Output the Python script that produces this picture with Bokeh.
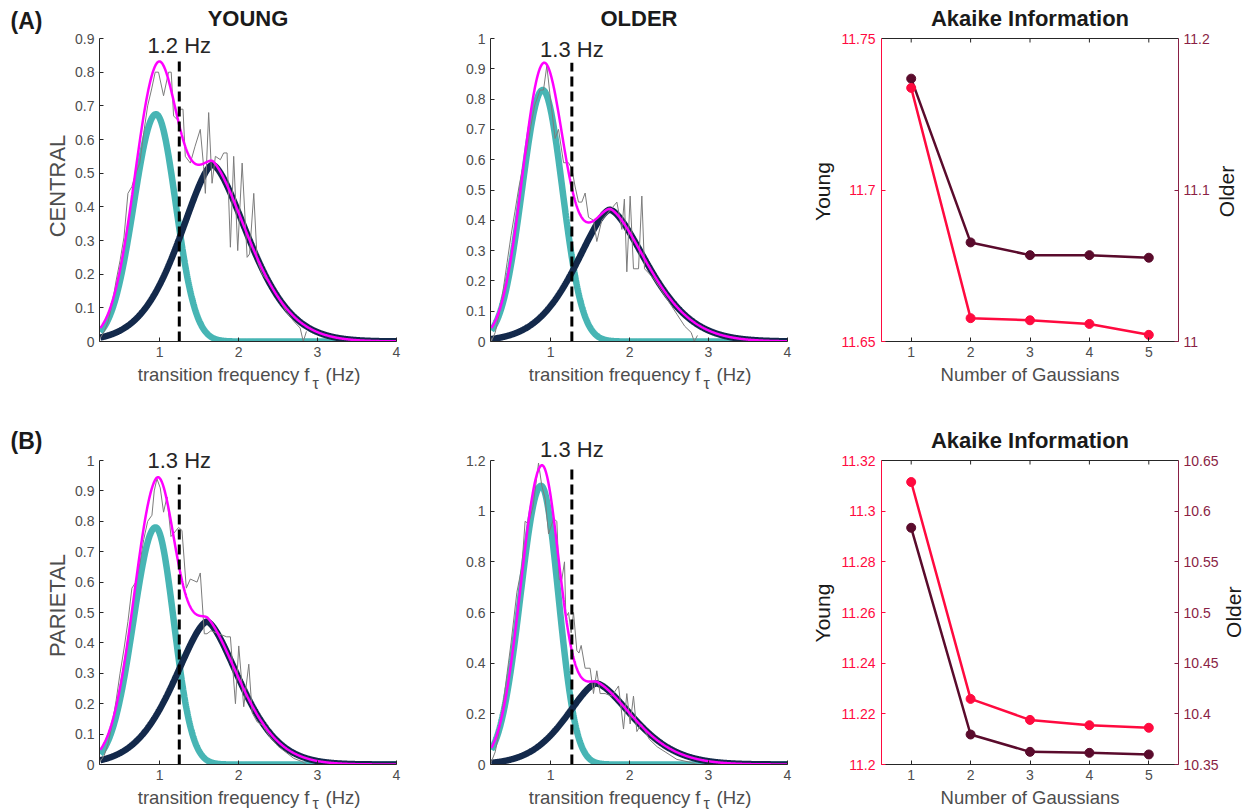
import numpy as np
from bokeh.plotting import figure
from bokeh.layouts import row, column
from bokeh.models import Range1d, LinearAxis, FixedTicker, NumeralTickFormatter, Label, Span
from bokeh.embed import file_html
from bokeh.resources import INLINE

# ---------------------------------------------------------------- data
freq_ticks = [1, 2, 3, 4]
gauss_n = [1, 2, 3, 4, 5]

# fitted components:
# [amplitude, centre (Hz), width left of centre, width right of centre, shape exponent]
fast_A_young = [0.675, 0.955, 0.28, 0.25, 2.0]
slow_A_young = [0.525, 1.67, 0.40, 0.44, 1.6]
fast_A_older = [0.83, 0.90, 0.26, 0.25, 2.0]
slow_A_older = [0.435, 1.75, 0.41, 0.46, 1.6]
fast_B_young = [0.78, 0.95, 0.28, 0.23, 2.0]
slow_B_young = [0.47, 1.60, 0.40, 0.40, 1.6]
fast_B_older = [1.10, 0.88, 0.26, 0.22, 2.0]
slow_B_older = [0.32, 1.58, 0.37, 0.445, 1.6]

# measured distributions (grey)
gx_A_young = [0.25, 0.30, 0.35, 0.40, 0.45, 0.50, 0.55, 0.60, 0.65, 0.70, 0.75, 0.80, 0.85, 0.90,
              0.945, 0.987, 1.051, 1.114, 1.148, 1.178, 1.22, 1.263, 1.297, 1.326, 1.39, 1.45,
              1.516, 1.558, 1.58, 1.622, 1.665, 1.707, 1.77, 1.812, 1.855, 1.897, 1.939, 1.99,
              2.046, 2.109, 2.14, 2.193, 2.236, 2.30, 2.40, 2.50, 2.60, 2.70, 2.78, 2.82, 2.86]
gy_A_young = [0.01, 0.03, 0.06, 0.11, 0.18, 0.24, 0.31, 0.44, 0.46, 0.50, 0.53, 0.62, 0.70, 0.75,
              0.80, 0.80, 0.73, 0.80, 0.80, 0.67, 0.66, 0.69, 0.69, 0.55, 0.53, 0.58,
              0.63, 0.52, 0.44, 0.68, 0.47, 0.55, 0.54, 0.56, 0.56, 0.28, 0.55, 0.27,
              0.53, 0.25, 0.26, 0.44, 0.24, 0.20, 0.17, 0.13, 0.09, 0.06, 0.04, 0.0, 0.03]
gx_A_older = [0.25, 0.30, 0.35, 0.40, 0.45, 0.50, 0.55, 0.60, 0.66, 0.70, 0.75, 0.80, 0.868, 0.911,
              0.953, 0.995, 1.058, 1.101, 1.165, 1.228, 1.27, 1.312, 1.354, 1.396, 1.438, 1.481,
              1.544, 1.586, 1.649, 1.713, 1.84, 1.903, 1.935, 1.966, 2.008, 2.05, 2.114, 2.156,
              2.19, 2.30, 2.40, 2.50, 2.60, 2.70, 2.78, 2.82, 2.86]
gy_A_older = [0.00, 0.03, 0.09, 0.17, 0.26, 0.35, 0.43, 0.51, 0.59, 0.63, 0.71, 0.78, 0.83, 0.83,
              0.91, 0.81, 0.67, 0.70, 0.59, 0.59, 0.57, 0.51, 0.46, 0.46, 0.49, 0.41,
              0.40, 0.33, 0.40, 0.42, 0.46, 0.37, 0.47, 0.23, 0.48, 0.24, 0.24, 0.48,
              0.24, 0.21, 0.17, 0.13, 0.09, 0.05, 0.03, 0.0, 0.02]
gx_B_young = [0.25, 0.30, 0.35, 0.40, 0.45, 0.50, 0.55, 0.60, 0.65, 0.70, 0.75, 0.80, 0.85, 0.904,
              0.933, 0.967, 1.009, 1.051, 1.094, 1.145, 1.178, 1.241, 1.284, 1.339, 1.39, 1.475,
              1.516, 1.567, 1.601, 1.65, 1.75, 1.85, 1.897, 1.961, 2.003, 2.066, 2.13, 2.173,
              2.236, 2.30, 2.40, 2.50, 2.60, 2.70, 2.80, 2.86]
gy_B_young = [0.01, 0.03, 0.07, 0.13, 0.21, 0.30, 0.38, 0.47, 0.58, 0.60, 0.66, 0.74, 0.80, 0.82,
              0.90, 0.94, 0.91, 0.83, 0.88, 0.75, 0.76, 0.78, 0.77, 0.58, 0.61, 0.60,
              0.63, 0.43, 0.43, 0.44, 0.43, 0.42, 0.42, 0.20, 0.39, 0.19, 0.33, 0.17,
              0.14, 0.13, 0.09, 0.06, 0.04, 0.02, 0.01, 0.0]
gx_B_older = [0.25, 0.30, 0.35, 0.40, 0.45, 0.50, 0.574, 0.637, 0.678, 0.722, 0.78, 0.848, 0.89,
              0.932, 0.975, 1.038, 1.08, 1.109, 1.143, 1.177, 1.194, 1.228, 1.261, 1.291, 1.333,
              1.36, 1.388, 1.438, 1.501, 1.544, 1.586, 1.628, 1.691, 1.776, 1.861, 1.924, 1.966,
              2.008, 2.05, 2.093, 2.15, 2.25, 2.35, 2.45, 2.60, 2.75, 2.86]
gy_B_older = [0.01, 0.05, 0.13, 0.24, 0.36, 0.48, 0.68, 0.78, 0.96, 0.95, 1.02, 1.19, 1.10,
              1.05, 0.91, 0.97, 0.96, 0.73, 0.73, 0.80, 0.58, 0.60, 0.52, 0.60, 0.45,
              0.44, 0.47, 0.38, 0.38, 0.28, 0.37, 0.28, 0.28, 0.27, 0.31, 0.14, 0.28,
              0.16, 0.27, 0.13, 0.16, 0.10, 0.07, 0.05, 0.02, 0.01, 0.0]

threshold_hz = [1.25, 1.27, 1.25, 1.27]
threshold_txt = ["1.2 Hz", "1.3 Hz", "1.3 Hz", "1.3 Hz"]

yticks_09 = [0, 0.1, 0.2, 0.3, 0.4, 0.5, 0.6, 0.7, 0.8, 0.9]
yticks_10 = [0, 0.1, 0.2, 0.3, 0.4, 0.5, 0.6, 0.7, 0.8, 0.9, 1.0]
yticks_12 = [0, 0.2, 0.4, 0.6, 0.8, 1.0, 1.2]

aic_young_A = [11.7337, 11.6577, 11.6570, 11.6558, 11.6522]
aic_older_A = [11.1735, 11.0654, 11.0570, 11.0570, 11.0553]
aic_young_B = [11.3115, 11.2259, 11.2176, 11.2155, 11.2145]
aic_older_B = [10.5836, 10.3796, 10.3625, 10.3615, 10.3599]
aic_left_ticks_A = [11.65, 11.7, 11.75]
aic_right_ticks_A = [11.0, 11.1, 11.2]
aic_left_ticks_B = [11.2, 11.22, 11.24, 11.26, 11.28, 11.3, 11.32]
aic_right_ticks_B = [10.35, 10.4, 10.45, 10.5, 10.55, 10.6, 10.65]

# ---------------------------------------------------------------- style
FONT = "Liberation Sans"
TEAL = "#47b5b4"
NAVY = "#13294b"
MAGENTA = "#ff00ff"
GREY = "#7c7c7c"
RED = "#ff0a3f"
DARK = "#5a0b2c"
MAROON = "#8a1f45"
AXIS = "#262626"
TICKTXT = "#4d4d4d"
TITLE = "#1a1a1a"


def component(x, prm):
    amp, mu, sl, sr, pw = prm
    d = x - mu
    s = np.where(d < 0, sl, sr)
    return amp * np.exp(-0.5 * np.abs(d / s) ** pw)


class Geo:
    """maps page pixels to data, given the pixel box of the axes and its data limits"""
    def __init__(self, box, lim):
        self.l, self.r, self.t, self.b = box
        self.x0, self.x1, self.y0, self.y1 = lim
        self.sx = (self.x1 - self.x0) / (self.r - self.l)
        self.sy = (self.y1 - self.y0) / (self.b - self.t)

    def x(self, px):
        return self.x0 + (px - self.l) * self.sx

    def y(self, py):
        return self.y0 + (self.b - py) * self.sy

    def dy(self, dpx):
        return dpx * self.sy


def style_axis(ax, line_color, text_color, ticks, fmt, standoff=5):
    ax.ticker = FixedTicker(ticks=ticks)
    ax.formatter = NumeralTickFormatter(format=fmt)
    ax.major_tick_in = 4
    ax.major_tick_out = 0
    ax.minor_tick_line_color = None
    ax.axis_line_color = line_color
    ax.axis_line_width = 1
    ax.major_tick_line_color = line_color
    ax.major_label_text_color = text_color
    ax.major_label_text_font = FONT
    ax.major_label_text_font_size = "14px"
    ax.major_label_standoff = standoff


def _clean(p):
    p.grid.visible = False
    p.outline_line_color = None
    p.background_fill_color = "white"
    p.border_fill_color = "white"
    return p


def make_fig(fig_box, frame_box, geo):
    fx, fy, fw, fh = fig_box
    l, r, t, b = frame_box
    p = figure(width=fw, height=fh,
               x_range=Range1d(geo.x(l), geo.x(r)), y_range=Range1d(geo.y(b), geo.y(t)),
               output_backend="svg", toolbar_location=None, tools="", min_border=0,
               min_border_left=l - fx, min_border_right=fx + fw - r,
               min_border_top=t - fy, min_border_bottom=fy + fh - b,
               frame_align=False)
    return _clean(p)


def strip(x, y, w, h):
    """a bare text area whose data coordinates are page pixels"""
    p = figure(width=w, height=h, x_range=Range1d(x, x + w), y_range=Range1d(y + h, y),
               x_axis_location=None, y_axis_location=None,
               output_backend="svg", toolbar_location=None, tools="", min_border=0,
               min_border_left=0, min_border_right=0, min_border_top=0, min_border_bottom=0,
               frame_align=False)
    return _clean(p)


def txt(p, x, y, text, size, color=TITLE, bold=False, align="left", angle=0.0):
    # (x, y) is the vertical middle of the text line
    p.add_layout(Label(x=x, y=y, text=text, text_font=FONT, text_font_size=size,
                       text_color=color, text_font_style="bold" if bold else "normal",
                       text_align=align, text_baseline="middle", angle=angle))


def xlabel_freq(p, off, mid, tau_mid):
    txt(p, 309 + off, mid, "transition frequency f", "18.5px", color=TICKTXT, align="right")
    txt(p, 312 + off, tau_mid, "\u03c4", "16px", color=TICKTXT, align="left")
    txt(p, 325 + off, mid, "(Hz)", "18.5px", color=TICKTXT, align="left")


def curve_panel(fig_box, frame_box, ax_box, ymax, yticks, fast, slow, gx, gy,
                thr, thr_txt, thr_mid, ylab=None):
    g = Geo(ax_box, (0.24, 4.0, 0.0, ymax))
    p = make_fig(fig_box, frame_box, g)
    style_axis(p.xaxis[0], AXIS, TICKTXT, freq_ticks, "0")
    style_axis(p.yaxis[0], AXIS, TICKTXT, yticks, "0.[0]")
    p.xaxis[0].bounds = (0.24, 4.0)
    p.yaxis[0].bounds = (0.0, ymax)
    if ylab:
        p.yaxis[0].axis_label = ylab
        p.yaxis[0].axis_label_text_font = FONT
        p.yaxis[0].axis_label_text_font_size = "22px"
        p.yaxis[0].axis_label_text_font_style = "normal"
        p.yaxis[0].axis_label_text_color = TICKTXT
        p.yaxis[0].axis_label_standoff = 2
    xs = np.linspace(0.25, 4.0, 751)
    c1 = component(xs, fast)
    c2 = component(xs, slow)
    tot = c1 + c2
    p.line(xs, c1, line_color=TEAL, line_width=6.5)
    p.line(xs, c2, line_color=NAVY, line_width=6.5)
    p.line(gx, gy, line_color=GREY, line_width=1)
    p.line(xs, tot, line_color=MAGENTA, line_width=2.5)
    peak = float(tot.max())
    p.line([thr, thr], [0, peak], line_color="black", line_width=3, line_dash="10 5")
    txt(p, thr, g.y(thr_mid), thr_txt, "22px", color=AXIS, align="center")
    return p


def aic_panel(fig_box, frame_box, ax_box, yl, yr2, lticks, rticks, young, older):
    g = Geo(ax_box, (0.5, 5.5, yl[0], yl[1]))
    p = make_fig(fig_box, frame_box, g)
    g2 = Geo(ax_box, (0.5, 5.5, yr2[0], yr2[1]))
    p.extra_y_ranges = {"older": Range1d(g2.y(frame_box[3]), g2.y(frame_box[2]))}
    style_axis(p.xaxis[0], AXIS, TICKTXT, gauss_n, "0")
    style_axis(p.yaxis[0], RED, RED, lticks, "0.[00]", standoff=6)
    p.yaxis[0].bounds = yl
    ra = LinearAxis(y_range_name="older")
    style_axis(ra, MAROON, MAROON, rticks, "0.[00]", standoff=5)
    ra.bounds = yr2
    p.add_layout(ra, "right")
    # box top edge with inward ticks
    p.add_layout(Span(location=yl[1], dimension="width", line_color=AXIS, line_width=1))
    p.segment(x0=gauss_n, y0=[yl[1]] * len(gauss_n), x1=gauss_n,
              y1=[yl[1] - g.dy(4)] * len(gauss_n), line_color=AXIS, line_width=1)
    p.line(gauss_n, older, line_color=DARK, line_width=2.5, y_range_name="older")
    p.scatter(gauss_n, older, size=9, color=DARK, marker="circle", y_range_name="older")
    p.line(gauss_n, young, line_color=RED, line_width=2.5)
    p.scatter(gauss_n, young, size=9, color=RED, marker="circle")
    return p


# ================================================================ column 1
sL = strip(0, 0, 42, 812)
txt(sL, 10, 20, "(A)", "23px", bold=True)
txt(sL, 10, 440.5, "(B)", "23px", bold=True)

s1a = strip(42, 0, 398, 30)
txt(s1a, 247.5, 17.8, "YOUNG", "22px", bold=True, align="center")

pA1 = curve_panel((42, 30, 398, 333), (99, 440, 30, 341), (99, 396, 38, 341), 0.9, yticks_09,
                  fast_A_young, slow_A_young, gx_A_young, gy_A_young,
                  threshold_hz[0], threshold_txt[0], 45, ylab="CENTRAL")

s1b = strip(42, 363, 398, 83)
xlabel_freq(s1b, 0, 373.6, 382.5)

pB1 = curve_panel((42, 446, 398, 340), (99, 440, 446, 764), (99, 396, 460, 764), 1.0, yticks_10,
                  fast_B_young, slow_B_young, gx_B_young, gy_B_young,
                  threshold_hz[2], threshold_txt[2], 459.5, ylab="PARIETAL")

s1c = strip(42, 786, 398, 26)
xlabel_freq(s1c, 0, 796.5, 803)

col1 = row(sL, column(s1a, pA1, s1b, pB1, s1c))

# ================================================================ column 2
s2a = strip(440, 0, 370, 30)
txt(s2a, 638.5, 17.8, "OLDER", "22px", bold=True, align="center")

pA2 = curve_panel((440, 30, 370, 333), (490, 810, 30, 341), (490, 787, 38, 341), 1.0, yticks_10,
                  fast_A_older, slow_A_older, gx_A_older, gy_A_older,
                  threshold_hz[1], threshold_txt[1], 49.2)

s2b = strip(440, 363, 370, 71)
xlabel_freq(s2b, 391, 373.6, 382.5)

pB2 = curve_panel((440, 434, 370, 352), (490, 810, 434, 764), (490, 787, 460, 764), 1.2, yticks_12,
                  fast_B_older, slow_B_older, gx_B_older, gy_B_older,
                  threshold_hz[3], threshold_txt[3], 449.2)

s2c = strip(440, 786, 370, 26)
xlabel_freq(s2c, 391, 796.5, 803)

col2 = column(s2a, pA2, s2b, pB2, s2c)

# ================================================================ column 3
s3a = strip(810, 0, 434, 30)
txt(s3a, 1029.5, 17.8, "Akaike Information", "22px", bold=True, align="center")

sYA = strip(810, 30, 28, 333)
txt(sYA, 821.8, 191, "Young", "21px", align="center", angle=np.pi / 2)
pA3 = aic_panel((838, 30, 378, 333), (881, 1178, 36, 341), (881, 1178, 38, 341),
                (11.65, 11.75), (11.0, 11.2), aic_left_ticks_A, aic_right_ticks_A,
                aic_young_A, aic_older_A)
sOA = strip(1216, 30, 28, 333)
txt(sOA, 1226, 191, "Older", "21px", align="center", angle=np.pi / 2)

s3b = strip(810, 363, 434, 89)
txt(s3b, 1029.5, 373.6, "Number of Gaussians", "18.5px", color=TICKTXT, align="center")
txt(s3b, 1029.5, 439.6, "Akaike Information", "22px", bold=True, align="center")

sYB = strip(810, 452, 28, 334)
txt(sYB, 821.8, 612.5, "Young", "21px", align="center", angle=np.pi / 2)
pB3 = aic_panel((838, 452, 383, 334), (881, 1178, 458, 764), (881, 1178, 460, 764),
                (11.2, 11.32), (10.35, 10.65), aic_left_ticks_B, aic_right_ticks_B,
                aic_young_B, aic_older_B)
sOB = strip(1221, 452, 23, 334)
txt(sOB, 1232.5, 611.7, "Older", "21px", align="center", angle=np.pi / 2)

s3c = strip(810, 786, 434, 26)
txt(s3c, 1029.5, 796.5, "Number of Gaussians", "18.5px", color=TICKTXT, align="center")

col3 = column(s3a, row(sYA, pA3, sOA), s3b, row(sYB, pB3, sOB), s3c)

layout = row(col1, col2, col3)
open("out.html", "w").write(file_html(layout, INLINE))
